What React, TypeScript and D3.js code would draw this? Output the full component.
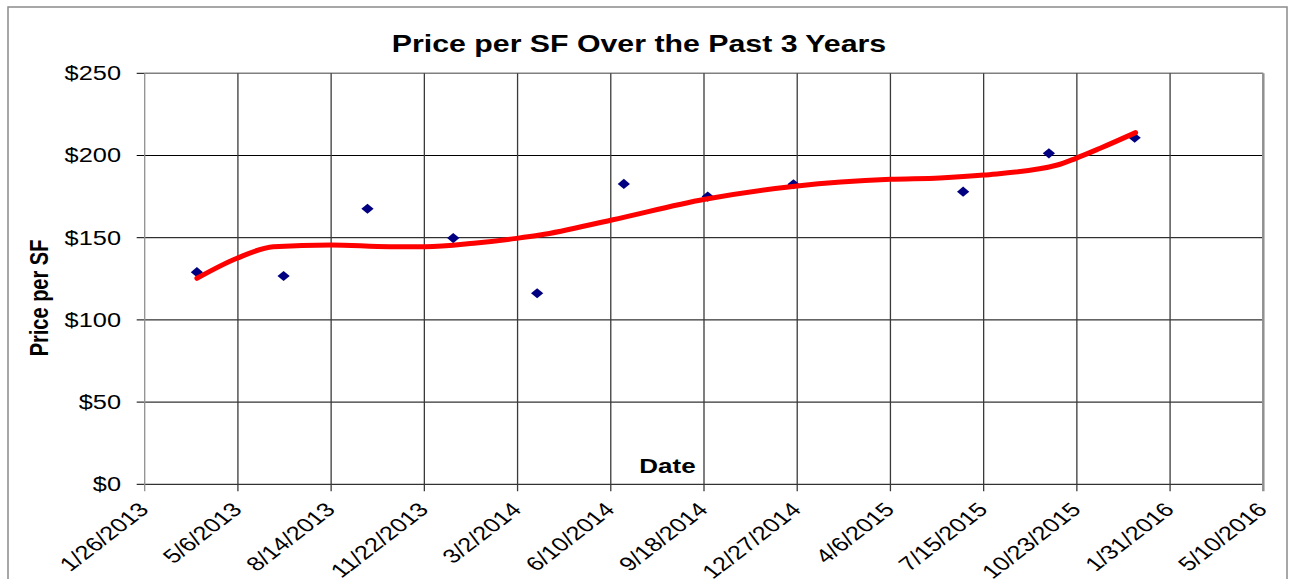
import * as d3 from 'd3';

// observed sales, price per square foot
const saleDates = [
  '3/23/2013', '6/24/2013', '9/22/2013', '12/23/2013', '3/23/2014', '6/24/2014',
  '9/22/2014', '12/23/2014', '6/23/2015', '9/23/2015', '12/24/2015',
];
const salePrices = [129, 126.7, 167.6, 149.8, 116.2, 182.7, 175, 182.5, 178, 201.3, 210.8];

// trendline
const trendDates = [
  '3/23/2013', '5/5/2013', '6/13/2013', '8/14/2013', '10/16/2013', '11/23/2013',
  '1/14/2014', '3/1/2014', '3/26/2014', '6/11/2014', '9/19/2014', '12/27/2014',
  '4/6/2015', '5/29/2015', '7/15/2015', '10/2/2015', '10/22/2015', '11/17/2015',
  '12/25/2015',
];
const trendPrices = [
  125.3, 137.5, 144.5, 145.6, 144.5, 144.5, 146.6, 149.6, 151.6, 160.8, 173.4, 181.5,
  185.5, 186.3, 188.1, 194.2, 198.3, 204.4, 213.9,
];

const xTickLabels = [
  '1/26/2013', '5/6/2013', '8/14/2013', '11/22/2013', '3/2/2014', '6/10/2014',
  '9/18/2014', '12/27/2014', '4/6/2015', '7/15/2015', '10/23/2015', '1/31/2016',
  '5/10/2016',
];
const yTicks = [0, 50, 100, 150, 200, 250];

const WIDTH = 1289;
const HEIGHT = 579;
// the original picture is stretched sideways, so text gets the same stretch
const SX = 1.3;
const FONT = '"Liberation Sans", Arial, sans-serif';

const parse = d3.utcParse('%m/%d/%Y');

const App = () => {
  const tickDates = xTickLabels.map((s) => parse(s) as Date);

  const x = d3
    .scaleUtc()
    .domain([tickDates[0], tickDates[tickDates.length - 1]])
    .range([144.7, 1263.3]);
  const y = d3.scaleLinear().domain([0, 250]).range([484.3, 73.3]);

  const points = saleDates.map((d, i) => ({ date: parse(d) as Date, value: salePrices[i] }));
  const trend = trendDates.map((d, i) => ({ date: parse(d) as Date, value: trendPrices[i] }));

  const trendLine = d3
    .line<{ date: Date; value: number }>()
    .x((p) => x(p.date))
    .y((p) => y(p.value))
    .curve(d3.curveMonotoneX);

  const diamond = d3.symbol().type(d3.symbolSquare).size(52)() as string;

  const [x0, x1] = x.range();
  const [yBottom, yTop] = y.range();

  return (
    <div style={{ position: 'absolute', left: 0, top: 0 }}>
      <svg width={WIDTH} height={HEIGHT} style={{ display: 'block', background: '#fff' }} fontFamily={FONT}>
        {/* outer chart border */}
        <rect x={8} y={7} width={1279} height={600} fill="none" stroke="#8a8a8a" strokeWidth={1.5} />

        {/* title */}
        <text
          transform={`translate(639,52) scale(${SX},1)`}
          textAnchor="middle"
          fontSize={23.3}
          fontWeight="bold"
        >
          Price per SF Over the Past 3 Years
        </text>

        {/* horizontal gridlines */}
        {yTicks.map((t) => (
          <line
            key={`h${t}`}
            x1={x0}
            x2={x1}
            y1={y(t)}
            y2={y(t)}
            stroke={t === 250 ? '#808080' : '#000'}
            strokeWidth={t === 250 ? 1.5 : 1}
          />
        ))}
        {yTicks.map((t) => (
          <line key={`yt${t}`} x1={x0 - 8} x2={x0} y1={y(t)} y2={y(t)} stroke="#000" />
        ))}

        {/* vertical gridlines */}
        {tickDates.map((d, i) => (
          <line
            key={`v${i}`}
            x1={x(d)}
            x2={x(d)}
            y1={yTop}
            y2={yBottom + 7}
            stroke={i === 0 || i === tickDates.length - 1 ? '#909090' : '#3a3a3a'}
            strokeWidth={i === tickDates.length - 1 ? 2.5 : 1.3}
          />
        ))}

        {/* y tick labels */}
        {yTicks.map((t) => (
          <text
            key={`yl${t}`}
            transform={`translate(121,${y(t)}) scale(${SX},1)`}
            textAnchor="end"
            dy="0.35em"
            fontSize={19.5}
          >
            {`$${t}`}
          </text>
        ))}

        {/* x tick labels */}
        {tickDates.map((d, i) => (
          <text
            key={`xl${i}`}
            transform={`translate(${x(d) - 1},506) scale(${SX},1) rotate(-45)`}
            textAnchor="end"
            dy="0.35em"
            fontSize={19.5}
          >
            {xTickLabels[i]}
          </text>
        ))}

        {/* axis titles */}
        <text
          transform={`translate(667.5,472.5) scale(${SX},1)`}
          textAnchor="middle"
          fontSize={20}
          fontWeight="bold"
        >
          Date
        </text>
        <text
          transform={`translate(47.5,298) scale(${SX},1) rotate(-90)`}
          textAnchor="middle"
          fontSize={20}
          fontWeight="bold"
        >
          Price per SF
        </text>

        {/* data points */}
        {points.map((p, i) => (
          <path
            key={`p${i}`}
            d={diamond}
            transform={`translate(${x(p.date)},${y(p.value)}) scale(1.2,1) rotate(45)`}
            fill="#000080"
          />
        ))}

        {/* trendline */}
        <path
          d={trendLine(trend) as string}
          fill="none"
          stroke="#ff0000"
          strokeWidth={5}
          strokeLinecap="round"
          strokeLinejoin="round"
        />
      </svg>
    </div>
  );
};

export default App;
